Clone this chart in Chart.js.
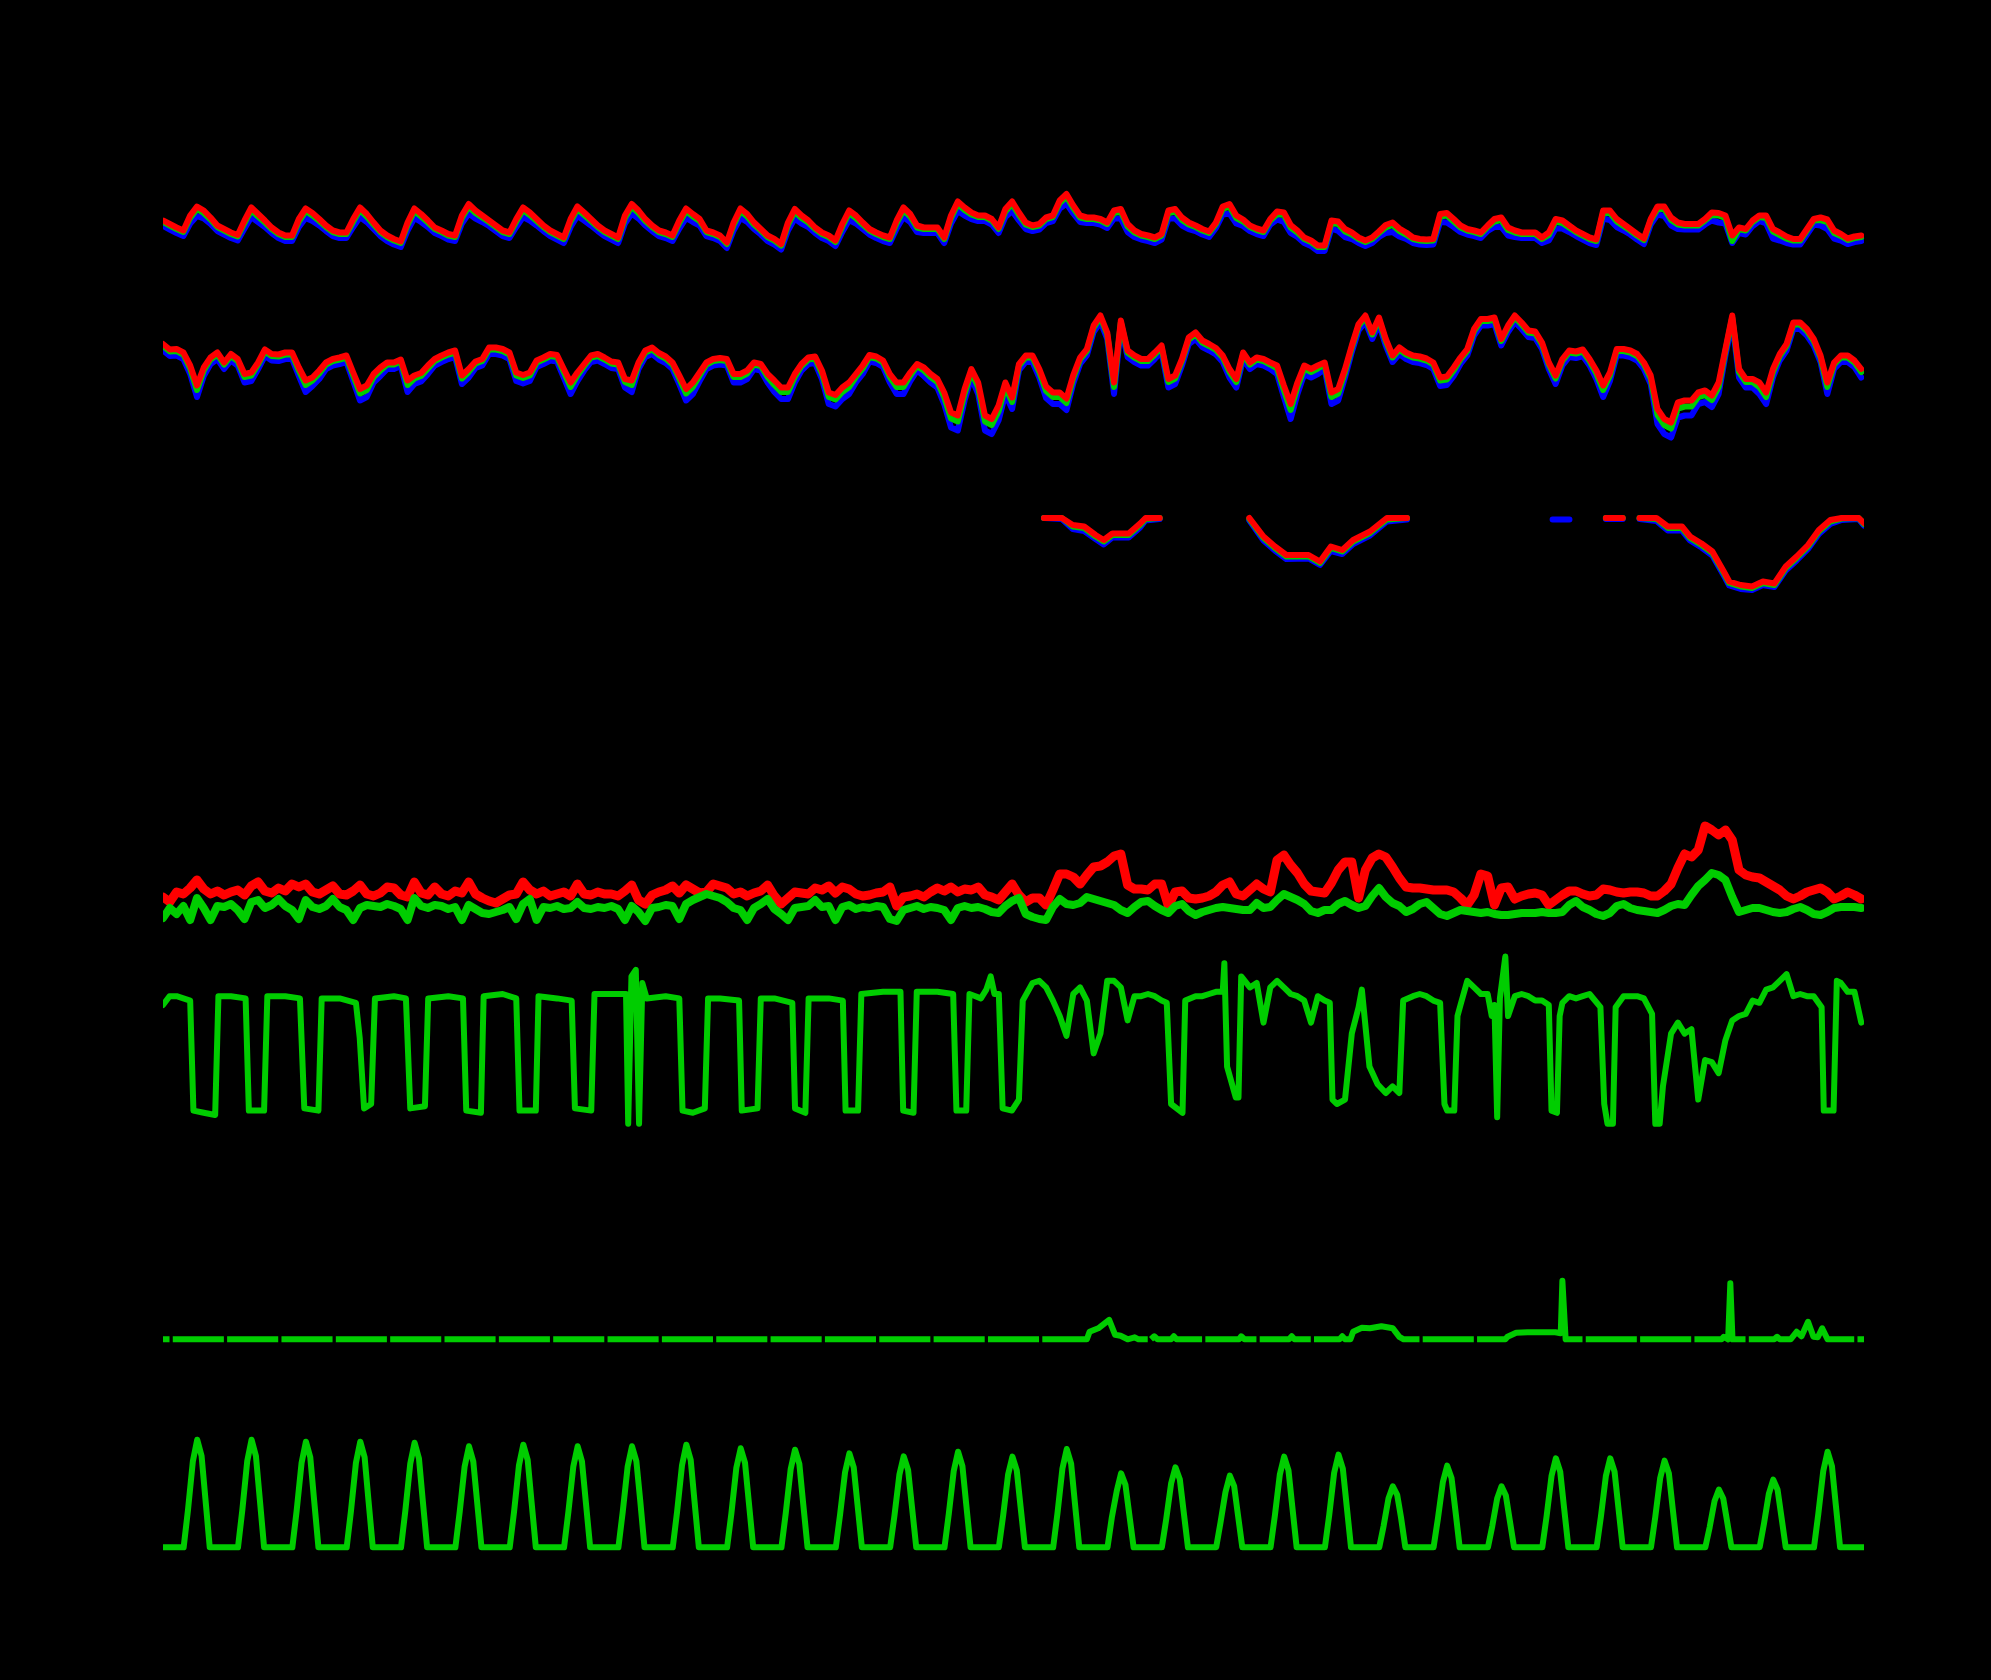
<!DOCTYPE html>
<html>
<head>
<meta charset="utf-8">
<title>Station time series</title>
<script src="https://cdn.jsdelivr.net/npm/chart.js@4.4.1/dist/chart.umd.min.js"></script>
<style>
html,body{margin:0;padding:0;background:#000;width:1991px;height:1680px;overflow:hidden;}
canvas{position:absolute;}
</style>
</head>
<body>
<script>
// ---------- time axis: 3-hourly samples, in days ----------
const SAMPLE_STEP_DAYS = 0.125;
const SAMPLE_COUNT = 251;
const sampleDays = Array.from({length: SAMPLE_COUNT}, (_, i) => i * SAMPLE_STEP_DAYS);
const X_MAX_DAYS = 31.3;

// ---------- panel 1: air temperature, three sensors ----------
const tempRed = [
9.9,9.2,8.5,7.9,10.9,12.7,11.9,10.5, 8.9,8.2,7.5,7.0,9.9,12.5,11.2,9.9,
8.5,7.5,6.9,6.9,10.2,12.3,11.4,10.2, 8.9,7.9,7.5,7.5,10.2,12.5,11.2,9.5,
7.9,6.9,6.2,5.7,9.5,12.3,11.2,9.9, 8.5,7.9,7.2,6.9,10.9,13.2,11.9,10.9,
9.9,8.9,7.9,7.5,10.2,12.5,11.5,10.2, 8.9,7.9,7.2,6.5,10.2,12.7,11.5,10.2,
8.9,7.9,7.2,6.5,10.9,13.2,11.9,10.2, 8.9,7.9,7.5,6.9,9.9,12.3,11.2,10.2,
7.9,7.5,6.9,5.5,9.5,12.3,11.2,9.5, 8.2,6.9,6.2,5.2,9.5,12.2,10.9,9.9,
8.5,7.5,6.9,5.9,9.2,11.9,10.9,9.5, 8.2,7.5,6.9,6.5,9.9,12.5,11.2,8.9,
8.5,8.5,8.5,6.5,10.9,13.7,12.5,11.5, 10.9,10.9,10.2,8.5,12.2,13.7,11.5,9.5,
8.9,9.2,10.5,10.9,13.9,15.2,12.9,10.9, 10.5,10.5,10.2,9.5,11.9,12.2,9.2,7.9,
7.2,6.9,6.5,7.2,11.9,12.2,10.5,9.5, 8.9,8.2,7.7,9.5,12.7,13.2,10.9,10.1,
8.9,8.3,7.9,10.2,11.7,11.5,9.0,7.9, 6.5,5.9,4.9,4.9,9.9,9.7,8.2,7.5,
6.5,5.9,6.5,7.7,9.0,9.5,8.3,7.5, 6.5,6.2,6.1,6.2,11.2,11.4,10.2,8.9,
8.2,7.9,7.5,8.9,10.2,10.5,8.5,7.9, 7.5,7.5,7.5,6.5,7.5,10.2,9.9,8.9,
7.9,7.2,6.5,6.1,11.9,11.9,10.2,9.2, 8.2,7.2,6.3,10.2,12.7,12.7,10.5,9.5,
9.2,9.2,9.2,10.2,11.5,11.4,10.9,6.9, 8.5,8.2,9.9,10.9,10.9,8.2,7.5,6.7,
6.2,6.2,8.2,10.2,10.5,10.1,7.9,7.2, 6.3,6.7,6.9];
const tempGreen = [
9.6,8.9,8.2,7.6,10.4,12.2,11.4,10.1, 8.6,7.9,7.2,6.7,9.4,12.0,10.7,9.5,
8.2,7.2,6.6,6.6,9.7,11.8,10.9,9.8, 8.6,7.6,7.2,7.2,9.7,12.0,10.7,9.1,
7.6,6.6,5.9,5.4,9.0,11.8,10.7,9.5, 8.2,7.6,6.9,6.6,10.4,12.7,11.4,10.5,
9.6,8.6,7.6,7.2,9.7,12.0,11.0,9.8, 8.6,7.6,6.9,6.2,9.7,12.2,11.0,9.8,
8.6,7.6,6.9,6.2,10.4,12.7,11.4,9.8, 8.6,7.6,7.2,6.6,9.4,11.8,10.7,9.8,
7.6,7.2,6.6,5.2,9.0,11.8,10.7,9.1, 7.9,6.6,5.9,4.9,9.0,11.7,10.4,9.5,
8.2,7.2,6.6,5.6,8.7,11.4,10.4,9.1, 7.9,7.2,6.6,6.2,9.4,12.0,10.7,8.5,
8.2,8.2,8.2,6.2,10.4,13.2,12.0,11.1, 10.6,10.6,9.9,8.2,11.7,13.2,11.0,9.1,
8.6,8.9,10.2,10.6,13.4,14.7,12.4,10.5, 10.2,10.2,9.9,9.2,11.4,11.7,8.7,7.5,
6.9,6.6,6.2,6.9,11.4,11.7,10.0,9.1, 8.6,7.9,7.4,9.2,12.2,12.7,10.4,9.7,
8.6,8.0,7.6,9.9,11.2,11.0,8.5,7.5, 6.2,5.6,4.6,4.6,9.4,9.2,7.7,7.1,
6.2,5.6,6.2,7.4,8.5,9.0,7.8,7.1, 6.2,5.9,5.8,5.9,10.7,10.9,9.7,8.5,
7.9,7.6,7.2,8.6,9.7,10.0,8.0,7.5, 7.2,7.2,7.2,6.2,7.0,9.7,9.4,8.5,
7.6,6.9,6.2,5.8,11.4,11.4,9.7,8.8, 7.9,6.9,6.0,9.9,12.2,12.2,10.0,9.1,
8.9,8.9,8.9,9.9,11.0,10.9,10.4,5.8, 8.2,7.9,9.6,10.6,10.4,7.7,7.0,6.3,
5.9,5.9,7.9,9.9,10.0,9.6,7.4,6.8, 6.0,6.4,6.6];
const tempBlue = [
8.8,8.1,7.4,6.8,9.3,10.8,10.3,9.2, 7.8,7.1,6.4,5.9,8.3,10.6,9.6,8.6,
7.4,6.4,5.8,5.8,8.6,10.4,9.8,8.9, 7.8,6.8,6.4,6.4,8.6,10.6,9.6,8.2,
6.8,5.8,5.1,4.6,7.9,10.4,9.6,8.6, 7.4,6.8,6.1,5.8,9.3,11.3,10.3,9.6,
8.8,7.8,6.8,6.4,8.6,10.6,9.9,8.9, 7.8,6.8,6.1,5.4,8.6,10.8,9.9,8.9,
7.8,6.8,6.1,5.4,9.3,11.3,10.3,8.9, 7.8,6.8,6.4,5.8,8.3,10.4,9.6,8.9,
6.8,6.4,5.8,4.4,7.9,10.4,9.6,8.2, 7.1,5.8,5.1,4.1,7.9,10.3,9.3,8.6,
7.4,6.4,5.8,4.8,7.6,10.0,9.3,8.2, 7.1,6.4,5.8,5.4,8.3,10.6,9.6,7.6,
7.4,7.4,7.4,5.4,9.3,11.8,10.9,10.2, 9.8,9.8,9.1,7.4,10.6,11.8,9.9,8.2,
7.8,8.1,9.4,9.8,12.3,13.3,11.3,9.6, 9.4,9.4,9.1,8.4,10.3,10.3,7.6,6.6,
6.1,5.8,5.4,6.1,10.3,10.3,8.9,8.2, 7.8,7.1,6.6,8.4,11.1,11.3,9.3,8.8,
7.8,7.2,6.8,9.1,10.1,9.6,7.4,6.6, 5.4,4.8,3.8,3.8,8.3,7.8,6.6,6.2,
5.4,4.8,5.4,6.6,7.4,7.6,6.7,6.2, 5.4,5.1,5.0,5.1,9.6,9.5,8.6,7.6,
7.1,6.8,6.4,7.8,8.6,8.6,6.9,6.6, 6.4,6.4,6.4,5.4,5.9,8.3,8.3,7.6,
6.8,6.1,5.4,5.0,10.3,10.0,8.6,7.9, 7.1,6.1,5.2,9.1,11.1,10.8,8.9,8.2,
8.1,8.1,8.1,9.1,9.9,9.5,9.3,5.4, 7.4,7.1,8.8,9.8,9.3,6.3,5.9,5.4,
5.1,5.1,7.1,9.1,8.9,8.2,6.3,5.9, 5.2,5.6,5.8];

// ---------- panel 2: three sensors ----------
const dewRed = [
19.2,18.1,18.2,17.5,14.9,10.9,14.5,16.5, 17.5,15.5,17.2,16.2,13.2,13.5,15.5,18.1,
17.2,17.1,17.5,17.5,14.5,11.9,12.5,13.9, 15.5,16.2,16.5,16.9,13.5,10.2,10.9,13.2,
14.5,15.5,15.5,16.1,11.9,12.9,13.4,14.9, 16.2,16.9,17.5,17.9,12.9,14.2,15.7,16.2,
18.5,18.5,18.2,17.5,13.5,13.0,13.5,15.9, 16.5,17.2,17.0,14.2,11.5,13.5,15.2,16.9,
17.2,16.5,15.7,15.5,12.2,11.9,15.5,17.9, 18.5,17.4,16.7,15.5,12.9,10.2,11.5,13.5,
15.5,16.2,16.4,16.2,13.2,13.2,13.9,15.5, 15.2,13.2,11.9,10.5,10.5,13.2,15.2,16.5,
16.7,13.9,9.5,9.0,10.5,11.5,13.2,14.9, 17.0,16.7,15.9,13.2,11.5,11.5,13.5,15.2,
14.5,13.2,12.2,9.5,5.5,4.9,10.2,14.2, 11.5,4.9,4.2,6.9,11.5,8.5,15.2,16.9,
16.9,14.2,10.7,9.5,9.5,8.3,13.0,16.5, 18.2,22.9,24.9,21.5,11.5,23.9,17.9,16.9,
16.2,16.2,17.5,18.9,12.2,12.9,16.2,20.5, 21.5,19.9,19.2,18.4,16.9,14.2,12.2,17.5,
15.5,16.5,16.2,15.5,14.9,10.9,7.2,11.5, 14.9,14.2,14.9,15.5,9.5,10.2,14.2,18.9,
23.2,24.9,21.5,24.5,20.2,16.9,18.5,17.5, 16.9,16.7,16.3,15.5,12.5,12.7,14.5,16.5,
18.2,22.2,24.2,24.2,24.5,20.2,22.9,24.9, 23.5,21.9,21.7,19.5,15.5,12.9,16.2,17.9,
17.7,18.1,16.2,13.9,10.9,13.5,18.2,18.2, 17.9,17.2,15.5,12.9,6.2,4.2,3.5,7.5,
7.9,7.9,9.5,9.9,8.9,11.5,18.2,24.9, 14.2,12.2,12.2,11.5,9.5,14.2,17.2,19.2,
23.5,23.5,22.2,20.2,16.9,11.5,15.5,16.9, 16.9,15.9,14.2];
const dewGreen = [
18.8,17.7,17.8,17.1,14.3,10.0,13.9,16.1, 17.1,15.1,16.8,15.8,12.6,12.9,15.1,17.7,
16.8,16.7,17.1,17.1,13.9,11.0,11.9,13.3, 15.1,15.8,16.1,16.5,12.9,9.3,10.0,12.6,
13.9,15.1,15.1,15.7,11.0,12.3,12.8,14.3, 15.8,16.5,17.1,17.5,12.3,13.6,15.3,15.8,
18.1,18.1,17.8,17.1,12.9,12.4,12.9,15.5, 16.1,16.8,16.6,13.6,10.6,12.9,14.8,16.5,
16.8,16.1,15.3,15.1,11.6,11.0,15.1,17.5, 18.1,17.0,16.3,15.1,12.3,9.3,10.6,12.9,
15.1,15.8,16.0,15.8,12.6,12.6,13.3,15.1, 14.8,12.6,11.0,9.6,9.6,12.6,14.8,16.1,
16.3,13.3,8.6,8.1,9.6,10.6,12.6,14.3, 16.6,16.3,15.5,12.6,10.6,10.6,12.9,14.8,
13.9,12.6,11.6,8.6,4.3,3.7,9.3,13.6, 10.6,3.7,3.0,5.7,10.6,7.6,14.8,16.5,
16.5,13.6,9.8,8.6,8.6,7.4,12.4,16.1, 17.8,22.5,24.5,21.1,10.6,23.5,17.5,16.5,
15.8,15.8,17.1,18.5,11.6,12.3,15.8,20.1, 21.1,19.5,18.8,18.0,16.5,13.6,11.6,17.1,
15.1,16.1,15.8,15.1,14.3,10.0,6.0,10.6, 14.3,13.6,14.3,15.1,8.6,9.3,13.6,18.5,
22.8,24.5,21.1,24.1,19.8,16.5,18.1,17.1, 16.5,16.3,15.9,15.1,11.9,12.1,13.9,16.1,
17.8,21.8,23.8,23.8,24.1,19.8,22.5,24.5, 23.1,21.5,21.3,19.1,15.1,12.3,15.8,17.5,
17.3,17.7,15.8,13.3,10.0,12.9,17.8,17.8, 17.5,16.8,15.1,12.3,5.0,3.0,2.3,6.3,
6.7,6.7,8.6,9.0,8.0,10.6,17.8,24.5, 13.6,11.6,11.6,10.6,8.6,13.6,16.8,18.8,
23.1,23.1,21.8,19.8,16.5,10.6,15.1,16.5, 16.5,15.5,13.6];
const dewBlue = [
17.9,16.8,16.9,16.2,13.2,8.6,12.8,15.2, 16.2,14.2,15.9,14.9,11.5,11.8,14.2,16.8,
15.9,15.8,16.2,16.2,12.8,9.6,10.8,12.2, 14.2,14.9,15.2,15.6,11.8,7.9,8.6,11.5,
12.8,14.2,14.2,14.8,9.6,11.2,11.7,13.2, 14.9,15.6,16.2,16.6,11.2,12.5,14.4,14.9,
17.2,17.2,16.9,16.2,11.8,11.3,11.8,14.6, 15.2,15.9,15.7,12.5,9.2,11.8,13.9,15.6,
15.9,15.2,14.4,14.2,10.5,9.6,14.2,16.6, 17.2,16.1,15.4,14.2,11.2,7.9,9.2,11.8,
14.2,14.9,15.1,14.9,11.5,11.5,12.2,14.2, 13.9,11.5,9.6,8.2,8.2,11.5,13.9,15.2,
15.4,12.2,7.2,6.7,8.2,9.2,11.5,13.2, 15.7,15.4,14.6,11.5,9.2,9.2,11.8,13.9,
12.8,11.5,10.5,7.2,2.5,1.9,7.9,12.5, 9.2,1.9,1.2,3.9,9.2,6.2,13.9,15.6,
15.6,12.5,8.4,7.2,7.2,6.0,11.3,15.2, 16.9,21.6,23.6,20.2,9.2,22.6,16.6,15.6,
14.9,14.9,16.2,17.6,10.5,11.2,14.9,19.2, 20.2,18.6,17.9,17.1,15.6,12.5,10.5,16.2,
14.2,15.2,14.9,14.2,13.2,8.6,4.2,9.2, 13.2,12.5,13.2,14.2,7.2,7.9,12.5,17.6,
21.9,23.6,20.2,23.2,18.9,15.6,17.2,16.2, 15.6,15.4,15.0,14.2,10.8,11.0,12.8,15.2,
16.9,20.9,22.9,22.9,23.2,18.9,21.6,23.6, 22.2,20.6,20.4,18.2,14.2,11.2,14.9,16.6,
16.4,16.8,14.9,12.2,8.6,11.8,16.9,16.9, 16.6,15.9,14.2,11.2,3.2,1.2,0.5,4.5,
4.9,4.9,7.2,7.6,6.6,9.2,16.9,23.6, 12.5,10.5,10.5,9.2,7.2,12.5,15.9,17.9,
22.2,22.2,20.9,18.9,15.6,9.2,14.2,15.6, 15.6,14.6,12.5];

// ---------- panel 3: sub-zero series with gaps (null = missing) ----------
const p3Days = [
16.21,16.54,16.74,16.95,17.16,17.31,17.47,17.77,17.98,18.08,18.34,18.40,
19.99,20.25,20.46,20.67,21.08,21.29,21.49,21.70,21.90,22.21,22.52,22.89,22.95,
25.57,25.88,25.95,
26.55,26.86,26.95,
27.17,27.48,27.69,27.95,28.10,28.31,28.51,28.72,28.82,29.03,29.24,29.44,29.65,29.86,
30.06,30.27,30.47,30.68,30.89,31.20,31.30];
const p3Red = [
0,0,-1.4,-1.7,-3.4,-4.4,-3.1,-3.1,-1.1,0,0,null,
0,-3.7,-5.7,-7.4,-7.4,-8.7,-5.7,-6.4,-4.4,-2.7,0,0,null,
null,null,null,
0,0,null,
0,0,-1.7,-1.7,-3.7,-5.1,-6.7,-10.7,-12.7,-13.4,-13.7,-12.7,-13.1,-9.7,
-7.7,-5.4,-2.4,-0.4,0,0,-1.0];
const p3Green = [
0,0,-1.7,-2.0,-3.7,-4.7,-3.4,-3.4,-1.4,-0.2,0,null,
-0.2,-4.0,-6.0,-7.7,-7.7,-9.0,-6.0,-6.7,-4.7,-3.0,-0.3,0,null,
null,null,null,
0,0,null,
0,-0.2,-2.0,-2.0,-4.0,-5.4,-7.0,-11.0,-13.0,-13.7,-14.0,-13.0,-13.4,-10.0,
-8.0,-5.7,-2.7,-0.7,-0.1,0,-1.2];
const p3Blue = [
0,-0.2,-2.2,-2.6,-4.2,-5.3,-3.9,-3.9,-1.9,-0.5,-0.2,null,
-0.5,-4.5,-6.5,-8.2,-8.1,-9.4,-6.6,-7.2,-5.2,-3.5,-0.7,-0.3,null,
-0.3,-0.3,null,
-0.2,-0.2,null,
-0.2,-0.6,-2.5,-2.5,-4.5,-5.9,-7.5,-11.5,-13.5,-14.2,-14.4,-13.4,-13.8,-10.5,
-8.5,-6.2,-3.2,-1.2,-0.4,-0.2,-1.5];

// ---------- panel 4: wind gust (red) and mean wind (green) ----------
const windGust = [
4.3,3.8,4.8,4.6,5.2,6.0,5.1,4.6, 4.9,4.5,4.8,5.0,4.5,5.4,5.8,4.9,
4.7,5.2,4.9,5.6,5.3,5.6,4.8,4.6, 5.0,5.4,4.6,4.5,4.9,5.5,4.6,4.4,
4.7,5.3,5.2,4.5,4.3,5.8,4.7,4.5, 5.3,4.6,4.4,4.9,4.7,5.8,4.6,4.2,
3.9,3.7,4.1,4.5,4.6,5.8,5.0,4.6, 4.9,4.4,4.6,4.8,4.4,5.6,4.6,4.5,
4.8,4.6,4.6,4.4,4.9,5.5,4.0,3.6, 4.5,4.8,5.0,5.4,4.7,5.5,5.1,4.7,
4.8,5.6,5.4,5.2,4.6,4.8,4.4,4.7, 4.9,5.5,4.4,3.6,4.2,4.8,4.7,4.6,
5.2,5.0,5.4,4.7,5.3,5.1,4.6,4.4, 4.5,4.7,4.8,5.3,3.4,4.3,4.4,4.6,
4.3,4.8,5.2,4.9,5.3,4.8,5.1,5.0, 5.3,4.5,4.3,4.0,4.8,5.6,4.5,3.8,
4.2,4.2,3.5,5.0,6.6,6.6,6.3,5.6, 6.5,7.3,7.4,7.8,8.4,8.6,5.5,5.1,
5.1,5.0,5.6,5.6,3.4,4.8,4.9,4.2, 4.1,4.2,4.4,4.8,5.5,5.8,4.6,4.4,
5.0,5.6,5.1,4.8,8.0,8.5,7.5,6.7, 5.6,4.9,4.8,4.7,5.7,7.0,7.8,7.8,
4.2,7.0,8.2,8.6,8.3,7.3,6.2,5.3, 5.2,5.2,5.1,5.0,5.0,5.0,4.8,4.2,
3.5,4.5,6.6,6.4,3.5,5.2,5.3,4.1, 4.4,4.6,4.7,4.5,3.5,4.0,4.5,4.9,
4.9,4.6,4.4,4.5,5.1,5.0,4.8,4.7, 4.8,4.8,4.7,4.4,4.4,4.9,5.6,7.2,
8.6,8.3,9.0,11.4,11.0,10.5,11.0,10.0, 7.0,6.5,6.3,6.2,5.8,5.4,5.0,4.4,
4.1,4.4,4.8,5.0,5.2,4.8,4.1,4.4, 4.8,4.5,4.1];
const windMean = [
2.2,3.2,2.6,3.4,2.0,4.2,3.2,2.0, 3.4,3.3,3.6,3.0,2.1,3.8,4.0,3.2,
3.5,4.1,3.4,3.0,2.1,4.0,3.3,3.1, 3.4,4.1,3.3,3.0,2.0,3.2,3.5,3.4,
3.3,3.6,3.4,3.1,2.0,4.2,3.4,3.2, 3.5,3.4,3.1,3.3,2.0,3.5,3.1,2.7,
2.6,2.8,3.0,3.3,2.1,3.6,4.1,2.0, 3.3,3.2,3.4,3.1,3.2,3.8,3.2,3.1,
3.3,3.2,3.4,3.1,2.0,3.4,2.8,1.9, 3.2,3.3,3.5,3.4,2.1,3.6,4.0,4.3,
4.6,4.4,4.2,3.8,3.2,3.0,2.0,3.2, 3.6,4.1,3.1,2.6,2.0,3.2,3.3,3.4,
4.0,3.3,3.4,2.0,3.3,3.5,3.1,3.3, 3.2,3.4,3.3,2.1,1.9,3.0,3.2,3.4,
3.1,3.3,3.2,3.0,2.0,3.2,3.4,3.2, 3.3,3.1,2.8,2.7,3.4,3.9,4.2,2.6,
2.3,2.1,2.0,3.3,4.1,3.6,3.5,3.7, 4.3,4.1,3.9,3.7,3.5,3.0,2.7,3.3,
3.8,3.9,3.4,3.0,2.7,3.4,3.6,2.9, 2.5,2.8,3.0,3.2,3.3,3.2,3.1,3.0,
3.0,3.7,3.2,3.3,4.0,4.6,4.3,4.0, 3.6,2.9,2.7,3.0,3.0,3.6,3.9,3.5,
3.2,3.4,4.4,5.2,4.3,3.7,3.4,2.8, 3.1,3.6,3.8,3.2,2.6,2.4,2.7,3.0,
2.9,2.8,2.7,2.8,2.6,2.5,2.5,2.6, 2.7,2.7,2.7,2.8,2.7,2.7,2.8,3.5,
3.9,3.3,3.0,2.6,2.4,2.7,3.4,3.6, 3.2,3.0,2.9,2.8,2.7,3.0,3.4,3.6,
3.5,4.5,5.4,6.0,6.7,6.5,6.0,4.3, 2.8,3.0,3.2,3.2,3.0,2.8,2.7,2.8,
3.1,3.3,3.0,2.6,2.5,2.8,3.2,3.3, 3.3,3.3,3.2];

// ---------- panel 5: relative humidity (irregular sample times, days) ----------
const humidityDays = [
0.00,0.12,0.25,0.50,0.56,0.75,0.96,
1.02,1.25,1.52,1.58,1.86,
1.92,2.25,2.52,2.60,2.86,
2.92,3.25,3.55,3.62,3.70,3.83,
3.90,4.25,4.47,4.55,4.82,
4.88,5.25,5.52,5.58,5.85,
5.90,6.25,6.50,6.56,6.86,
6.91,7.25,7.52,7.58,7.88,
7.94,8.25,8.52,8.56,8.62,8.70,8.76,8.82,8.90,
9.25,9.50,9.56,9.75,9.97,
10.03,10.25,10.60,10.65,10.94,
11.00,11.25,11.58,11.63,11.82,
11.88,12.25,12.51,12.56,12.79,
12.85,13.25,13.57,13.62,13.81,
13.87,14.25,14.54,14.60,14.78,
14.84,14.95,15.05,15.15,15.23,15.30,15.38,15.45,15.62,15.75,15.82,
16.0,16.125,16.25,16.375,16.5,16.625,16.75,16.875,
17.0,17.125,17.25,17.375,17.5,17.625,17.75,17.875,
18.0,18.125,18.25,18.375,18.47,18.55,18.76,18.81,
19.0,19.125,19.25,19.375,19.5,19.53,19.58,19.74,19.79,19.84,
20.0,20.125,20.25,20.375,20.5,20.625,20.75,20.875,
21.0,21.125,21.25,21.375,21.47,21.52,21.6,21.75,21.875,
22.0,22.06,22.2,22.35,22.5,22.625,22.75,22.82,
23.0,23.125,23.25,23.375,23.5,23.58,23.63,23.76,23.82,23.875,
24.0,24.125,24.25,24.375,24.45,24.5,24.55,24.6,24.7,24.75,24.875,
25.0,25.125,25.25,25.375,25.5,25.55,25.65,25.70,25.75,25.875,
26.0,26.125,26.25,26.45,26.52,26.58,26.68,26.73,26.875,
27.0,27.125,27.25,27.40,27.46,27.54,27.6,27.75,27.875,
28.0,28.125,28.25,28.375,28.5,28.625,28.75,28.875,
29.0,29.125,29.25,29.375,29.5,29.625,29.75,29.875,
30.0,30.125,30.25,30.375,30.52,30.56,30.74,30.80,30.875,
31.0,31.125,31.25];
const humidity = [
75,79,79,77,27,26,25,
79,79,78,27,27,
79,79,78,28,27,
78,78,76,60,28,30,
78,79,78,28,29,
78,79,78,27,26,
79,80,78,27,27,
79,78,77,28,27,
80,80,80,21,88,91,21,85,78,
79,78,27,26,28,
78,78,77,27,28,
78,78,76,28,26,
78,78,77,27,27,
80,81,81,27,26,
81,81,80,27,27,
80,79,78,82,88,80,80,28,27,32,77,
85,86,83,77,70,61,80,83,
77,53,62,86,86,83,68,79,
79,80,79,77,76,30,26,77,
79,79,80,81,81,94,47,33,33,88,
83,85,67,83,86,83,80,79,
77,67,79,77,76,32,30,32,62,
74,82,47,39,35,38,35,77,
79,80,79,77,76,30,27,27,70,75,
86,83,80,80,70,75,24,78,97,70,79,
80,79,77,77,75,27,26,70,76,79,
78,79,80,74,30,21,21,74,79,
79,79,78,71,21,21,38,62,67,
62,64,32,50,49,44,59,68,
70,71,77,76,82,83,86,89,
79,80,79,79,74,27,27,86,85,
81,81,67];

// ---------- panel 6: precipitation (null = missing sample) ----------
const precipDays = [
0,0.12,0.15,0.18, 1.12,1.15,1.18, 2.12,2.15,2.18, 3.12,3.15,3.18, 4.12,4.15,4.18,
5.12,5.15,5.18, 6.12,6.15,6.18, 7.12,7.15,7.18, 8.12,8.15,8.18, 9.12,9.15,9.18,
10.12,10.15,10.18, 11.12,11.15,11.18, 12.12,12.15,12.18, 13.12,13.15,13.18,
14.12,14.15,14.18, 15.12,15.15,15.18, 16.12,16.15,16.18,
17.0,17.05,17.21,17.41,17.52,17.62,17.75,17.88,17.95,
18.12,18.15,18.18,18.24,18.30,18.55,18.60,18.65,
19.12,19.15,19.18,19.80,19.84,19.90,
20.12,20.15,20.18,20.72,20.77,20.82,
21.12,21.15,21.18,21.65,21.70,21.75,21.85,21.90,22.06,22.21,22.42,22.63,22.75,22.83,
23.12,23.15,23.18,
24.12,24.15,24.18,24.70,24.74,24.90,25.11,25.62,25.72,25.75,25.81,
26.12,26.15,26.18, 27.12,27.15,27.18,
28.12,28.15,28.18,28.68,28.72,28.80,28.84,28.88,
29.12,29.15,29.18,29.65,29.70,29.75,29.95,
30.06,30.15,30.27,30.37,30.45,30.53,30.63,
31.12,31.15,31.18,31.30];
const precipValues = [
0,0,null,0, 0,null,0, 0,null,0, 0,null,0, 0,null,0,
0,null,0, 0,null,0, 0,null,0, 0,null,0, 0,null,0,
0,null,0, 0,null,0, 0,null,0, 0,null,0,
0,null,0, 0,null,0, 0,null,0,
0,1.5,2.2,3.9,0.9,0.7,0,0.4,0,
0,null,0,0.6,0,0,0.6,0,
0,null,0,0,0.6,0,
0,null,0,0,0.6,0,
0,null,0,0,0.6,0,0,1.5,2.3,2.2,2.6,2.2,0.5,0,
0,null,0,
0,null,0,0,0.5,1.3,1.4,1.4,1.2,11.7,0,
0,null,0, 0,null,0,
0,null,0,0,0.5,0,11.2,0,
0,null,0,0,0.5,0,0,
1.5,0.6,3.5,0.5,0.4,2.2,0,
0,null,0,0];

// ---------- panel 7: global radiation ----------
// sample times inside each day (fraction of day) for the daylight bump
const radDayFractions = [0.38,0.46,0.55,0.63,0.71,0.78,0.86];
const radDays = [0];
for (let d = 0; d < 31; d++) radDayFractions.forEach(f => radDays.push(d + f));
radDays.push(31.3);
const radiation = [0,
0,300,690,861,730,390,0,  0,300,690,861,730,390,0,
0,295,675,845,720,380,0,  0,295,675,845,720,380,0,
0,295,670,837,710,375,0,  0,285,645,808,685,365,0,
0,285,655,821,700,370,0,  0,285,645,808,685,365,0,
0,285,645,808,690,380,0,  0,285,655,821,700,370,0,
0,275,635,792,675,360,0,  0,275,625,781,665,350,0,
0,265,600,752,640,340,0,  0,255,580,728,620,330,0,
0,270,610,765,650,345,0,  0,255,580,725,615,325,0,
0,275,630,786,670,355,0,  0,240,450,592,500,265,0,
0,225,510,640,545,290,0,  0,200,440,573,490,260,0,
0,255,580,725,615,325,0,  0,260,595,741,630,335,0,
0,170,390,488,420,240,0,  0,230,520,653,555,300,0,
0,170,390,488,415,220,0,  0,250,570,712,605,320,0,
0,250,570,712,605,320,0,  0,245,555,693,590,310,0,
0,160,370,461,390,210,0,  0,190,430,541,460,245,0,
0,270,610,765,650,345,0,
0];

// ---------- colours ----------
const RED = '#ff0000', GREEN = '#00cd00', BLUE = '#0000ff';
const LINE_WIDTH = 6;

// ---------- drawing ----------
const PLOT_LEFT = 163, PLOT_WIDTH = 1701;

function series(xs, ys, color, order, opts) {
  opts = opts || {};
  return {
    data: xs.map((x, i) => ({x: x, y: ys[i]})),
    borderColor: color, backgroundColor: color,
    borderWidth: opts.width || LINE_WIDTH, pointRadius: 0, pointHoverRadius: 0,
    tension: 0, fill: false, spanGaps: false, order: order,
    borderJoinStyle: 'round', borderCapStyle: opts.cap || 'round'
  };
}

function panel(top, height, yMin, yMax, datasets) {
  const c = document.createElement('canvas');
  c.width = PLOT_WIDTH; c.height = height;
  c.style.left = PLOT_LEFT + 'px'; c.style.top = top + 'px';
  c.style.width = PLOT_WIDTH + 'px'; c.style.height = height + 'px';
  document.body.appendChild(c);
  return new Chart(c, {
    type: 'line',
    data: {datasets: datasets},
    options: {
      responsive: false, animation: false, devicePixelRatio: 1,
      layout: {padding: 0},
      plugins: {legend: {display: false}, tooltip: {enabled: false}, title: {display: false}},
      scales: {
        x: {type: 'linear', min: 0, max: X_MAX_DAYS, display: false},
        y: {type: 'linear', min: yMin, max: yMax, display: false}
      },
      events: []
    }
  });
}

panel(180, 90, 0, 18, [
  series(sampleDays, tempRed, RED, 0),
  series(sampleDays, tempGreen, GREEN, 1),
  series(sampleDays, tempBlue, BLUE, 2)
]);
panel(300, 150, -2, 28, [
  series(sampleDays, dewRed, RED, 0),
  series(sampleDays, dewGreen, GREEN, 1),
  series(sampleDays, dewBlue, BLUE, 2)
]);
panel(500, 100, -16.4, 3.6, [
  series(p3Days, p3Red, RED, 0),
  series(p3Days, p3Green, GREEN, 1),
  series(p3Days, p3Blue, BLUE, 2)
]);
panel(800, 140, 0, 14, [
  series(sampleDays, windMean, GREEN, 0, {width: 8}),
  series(sampleDays, windGust, RED, 1, {width: 9})
]);
panel(940, 230, 0, 104.545, [
  series(humidityDays, humidity, GREEN, 0)
]);
panel(1260, 90, -2.14, 15.86, [
  series(precipDays, precipValues, GREEN, 0, {cap: 'butt'})
]);
panel(1420, 140, -101.6, 1018.4, [
  series(radDays, radiation, GREEN, 0)
]);
</script>
</body>
</html>
